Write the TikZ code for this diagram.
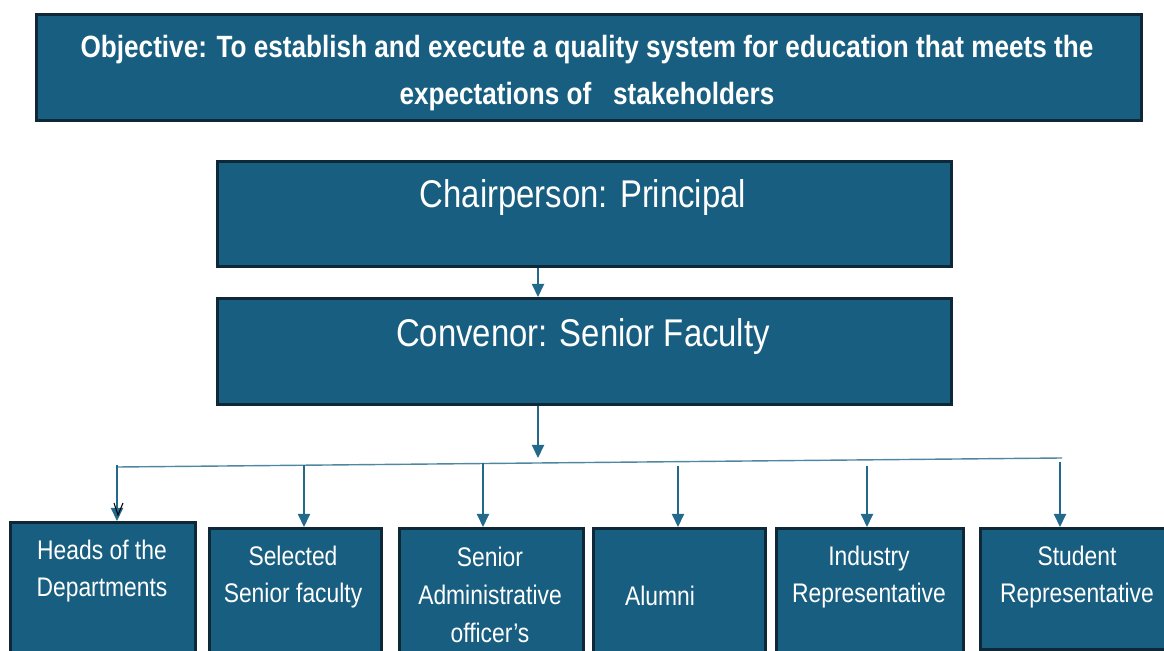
\documentclass[tikz,border=0pt]{standalone}
\usepackage{fontspec}
\setmainfont{Liberation Sans}[FakeStretch=0.85]
\usetikzlibrary{arrows.meta}

\definecolor{boxblue}{RGB}{24,94,128}
\definecolor{boxedge}{RGB}{14,40,55}
\definecolor{linkblue}{RGB}{35,105,140}

\tikzset{
  box/.style={draw=boxedge, line width=1.5pt, fill=boxblue, anchor=north west, inner sep=0pt},
  boxtext/.style={text=white, align=center, inner sep=0pt, font=\fontsize{15.3}{21.5}\selectfont},
  bigtext/.style={boxtext, font=\fontsize{22}{24}\selectfont},
  link/.style={draw=linkblue, line width=0.8pt, -{Triangle[width=7pt,length=7.5pt]}},
  bus/.style={draw=linkblue!80, line width=0.8pt},
}

\begin{document}
\begin{tikzpicture}[x=0.02cm, y=-0.02cm]
    \useasboundingbox (0,0) rectangle (1164,651);
    \clip (0,0) rectangle (1164,651);

    % Objective banner
    \node[box, minimum width=1105*0.02cm, minimum height=106*0.02cm] (obj) at (35,13) {};
    \node[boxtext, font=\bfseries\fontsize{17.5}{27.2}\selectfont] (objtext) at (587,73)
      {Objective: To establish and execute a quality system for education that meets the\\
       expectations of\ \ \ stakeholders};

    % Chairperson and convenor
    \node[box, minimum width=734*0.02cm, minimum height=105*0.02cm] (chair) at (216,160) {};
    \node[bigtext] (chairtext) at (583,198) {Chairperson: Principal};
    \node[box, minimum width=734*0.02cm, minimum height=106*0.02cm] (conv) at (216,297) {};
    \node[bigtext] (convtext) at (583,337) {Convenor: Senior Faculty};

    \coordinate (spine) at (538,0);
    \coordinate (hub) at (538,458);
    \draw[link] (chair.south -| spine) -- (conv.north -| spine);
    \draw[link] (conv.south -| spine) -- (hub);

    % Members
    \node[box, minimum width=185*0.02cm, minimum height=140*0.02cm] (heads) at (9,521) {};
    \node[box, minimum width=172*0.02cm, minimum height=140*0.02cm] (sel) at (208,527) {};
    \node[box, minimum width=184*0.02cm, minimum height=140*0.02cm] (adm) at (398,527) {};
    \node[box, minimum width=172*0.02cm, minimum height=140*0.02cm] (alum) at (592,527) {};
    \node[box, minimum width=187*0.02cm, minimum height=140*0.02cm] (ind) at (775,527) {};
    \node[box, minimum width=190*0.02cm, minimum height=121*0.02cm] (stud) at (979,527) {};

    \node[boxtext] (headstext) at (102,571) {Heads of the\\Departments};
    \node[boxtext] (seltext) at (293,577) {Selected\\Senior faculty};
    \node[boxtext] (admtext) at (490,595) {Senior\\Administrative\\officer’s};
    \node[boxtext] (alumtext) at (660,596) {Alumni};
    \node[boxtext] (indtext) at (869,577) {Industry\\Representative};
    \node[boxtext] (studtext) at (1077,577) {Student\\Representative};

    % Bus and drops
    \coordinate (busL) at (118,467);
    \coordinate (busR) at (1062,458);
    \draw[bus] (busL) -- (busR);

    \foreach \x/\y/\m in {117/465/heads, 304/465/sel, 483/463/adm, 678/466/alum, 867/466/ind, 1060/462/stud} {
        \coordinate (d-\m) at (\x,\y);
        \draw[link] (d-\m) -- (d-\m |- \m.north);
      }

    % stray open tip
    \draw[black, line width=0.6pt] (114,503) -- (118,515) -- (123,503);
  \end{tikzpicture}
\end{document}
